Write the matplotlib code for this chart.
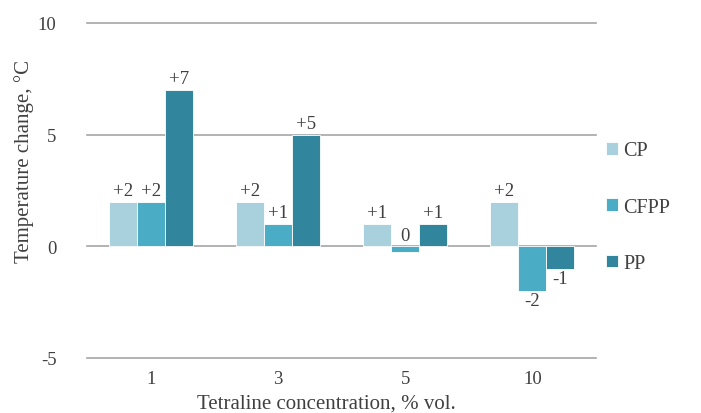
import matplotlib.pyplot as plt
import numpy as np

categories = ['1', '3', '5', '10']
cp = [2, 2, 1, 2]
cfpp = [2, 1, -0.25, -2]
pp = [7, 5, 1, -1]
cp_labels = ['+2', '+2', '+1', '+2']
cfpp_labels = ['+2', '+1', '0', '-2']
pp_labels = ['+7', '+5', '+1', '-1']

plt.rcParams['font.family'] = ['Liberation Serif', 'DejaVu Serif']
plt.rcParams['axes.unicode_minus'] = False
text_color = '#404040'
fs = 13.5

fig = plt.figure(figsize=(7.01, 4.14), dpi=100)
ax = fig.add_axes([87 / 701, 1 - 359 / 414, 509 / 701, 335 / 414])

x = np.arange(len(categories))
w = 0.22
series = [(cp, cp_labels, '#a9d1dd', 'CP'),
          (cfpp, cfpp_labels, '#4bacc6', 'CFPP'),
          (pp, pp_labels, '#31859c', 'PP')]
for i, (vals, labs, col, name) in enumerate(series):
    pos = x + (i - 1) * w
    bars = ax.bar(pos, vals, w, color=col, edgecolor='white', linewidth=0.6, label=name, zorder=3)
    for b, v, lab in zip(bars, vals, labs):
        cx = b.get_x() + b.get_width() / 2
        if v > -0.5:
            ax.annotate(lab, (cx, max(v, 0)), xytext=(0, 2),
                        textcoords='offset points', ha='center', va='bottom',
                        fontsize=fs, color=text_color)
        else:
            ax.annotate(lab, (cx, v), xytext=(0, -1),
                        textcoords='offset points', ha='center', va='top',
                        fontsize=fs, color=text_color)

ax.set_xlim(-0.5, len(categories) - 0.5)
ax.set_ylim(-5, 10)
ax.set_yticks([-5, 0, 5, 10])
ax.set_xticks(x)
ax.set_xticklabels(categories)
ax.tick_params(axis='both', length=0, labelsize=fs, labelcolor=text_color)
ax.tick_params(axis='x', pad=9)
ax.tick_params(axis='y', pad=22)
for yv in [-5, 0, 5, 10]:
    ax.axhline(yv, color='#a6a6a6', linewidth=1.2, zorder=1, clip_on=False)
for s in ax.spines.values():
    s.set_visible(False)

ax.set_xlabel('Tetraline concentration, % vol.', fontsize=15, color=text_color)
ax.set_ylabel('Temperature change, °C', fontsize=15, color=text_color)
ax.xaxis.set_label_coords(0.47, -0.105)
ax.yaxis.set_label_coords(-0.105, 0.59)

ax.legend(loc='center left', bbox_to_anchor=(1.02, 0.45), frameon=False, fontsize=14.5,
          handlelength=0.6, handleheight=0.6, handletextpad=0.25, labelspacing=1.85,
          labelcolor=text_color, borderaxespad=0, borderpad=0)

fig.savefig('out.png', dpi=100)
